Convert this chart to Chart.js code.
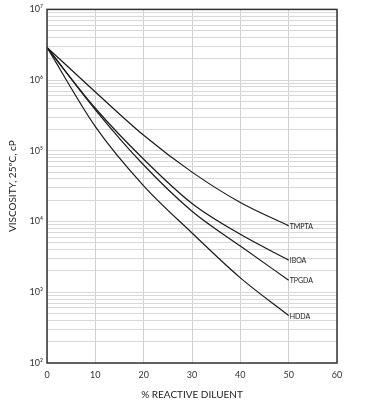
<!DOCTYPE html>
<html>
<head>
<meta charset="utf-8">
<script src="https://cdn.jsdelivr.net/npm/chart.js@4"></script>
<style>
  body { margin: 0; background: #fff; }
  #wrap { width: 368px; height: 415px; }
</style>
</head>
<body>
<div id="wrap"><canvas id="viscChart"></canvas></div>
<script>
  // values (viscosity in cP, log scale)
  const diluentPct = [0, 10, 20, 30, 40, 50];
  const tmpta = [2.9e6, 6.8e5, 1.66e5, 5.0e4, 1.86e4, 8.7e3];
  const iboa  = [2.9e6, 4.0e5, 7.6e4, 1.8e4, 6.6e3, 2.85e3];
  const tpgda = [2.9e6, 3.8e5, 6.3e4, 1.4e4, 4.5e3, 1.48e3];
  const hdda  = [2.9e6, 2.2e5, 3.2e4, 6.9e3, 1.6e3, 4.7e2];
  const seriesNames = ["TMPTA", "IBOA", "TPGDA", "HDDA"];
  const xTicks = [0, 10, 20, 30, 40, 50, 60];
  const yDecades = [2, 3, 4, 5, 6, 7];

  const FONT = "Lato, 'DejaVu Sans', sans-serif";
  const sup = {"0":"⁰","1":"¹","2":"²","3":"³","4":"⁴","5":"⁵","6":"⁶","7":"⁷","8":"⁸","9":"⁹"};

  // every 1..9 x 10^n line, like the printed log paper
  const yTicks = [];
  yDecades.slice(0, -1).forEach(d => {
    for (let m = 1; m <= 9; m++) yTicks.push(m * Math.pow(10, d));
  });
  yTicks.push(Math.pow(10, yDecades[yDecades.length - 1]));

  function toPoints(vals) {
    return vals.map((v, i) => ({ x: diluentPct[i], y: v }));
  }

  const allSeries = [tmpta, iboa, tpgda, hdda];

  // end-of-line names + closed frame around the plot
  const extras = {
    id: 'extras',
    afterDatasetsDraw(chart) {
      const ctx = chart.ctx;
      ctx.save();
      ctx.font = "7px " + FONT;
      ctx.fillStyle = "#222";
      ctx.textBaseline = "middle";
      ctx.textAlign = "left";
      chart.data.datasets.forEach((ds, i) => {
        const pts = chart.getDatasetMeta(i).data;
        const last = pts[pts.length - 1];
        ctx.fillText(ds.label, last.x + 1, last.y + 1);
      });
      const a = chart.chartArea;
      ctx.strokeStyle = "#333";
      ctx.lineWidth = 1.5;
      ctx.strokeRect(a.left, a.top, a.right - a.left, a.bottom - a.top);
      ctx.restore();
    }
  };

  new Chart(document.getElementById('viscChart'), {
    type: 'line',
    data: {
      datasets: allSeries.map((vals, i) => ({
        label: seriesNames[i],
        data: toPoints(vals),
        borderColor: "#1a1a1a",
        borderWidth: 1.2,
        pointRadius: 0,
        fill: false,
        cubicInterpolationMode: 'monotone'
      }))
    },
    options: {
      responsive: true,
      maintainAspectRatio: false,
      animation: false,
      layout: { padding: { left: 0, right: 31, top: 7, bottom: 0 } },
      plugins: {
        legend: { display: false },
        tooltip: { enabled: false }
      },
      scales: {
        x: {
          type: 'linear',
          min: xTicks[0],
          max: xTicks[xTicks.length - 1],
          afterBuildTicks: s => { s.ticks = xTicks.map(v => ({ value: v })); },
          afterFit: s => { s.height = 52; },
          grid: { color: "#d0d0d0", lineWidth: 1, drawTicks: false },
          border: { display: false },
          ticks: { padding: 7, color: "#333", font: { family: FONT, size: 9 } },
          title: {
            display: true,
            text: "% REACTIVE DILUENT",
            color: "#222",
            font: { family: FONT, size: 10 },
            padding: { top: 0, bottom: 14 }
          }
        },
        y: {
          type: 'logarithmic',
          min: yTicks[0],
          max: yTicks[yTicks.length - 1],
          afterBuildTicks: s => { s.ticks = yTicks.map(v => ({ value: v })); },
          afterFit: s => { s.width = 47; },
          grid: { color: "#d8d8d8", lineWidth: 1, drawTicks: false },
          border: { display: false },
          ticks: {
            autoSkip: false,
            padding: 4,
            color: "#333",
            font: { family: FONT, size: 9 },
            callback: function(val) {
              const e = Math.log10(val);
              if (Math.abs(e - Math.round(e)) > 1e-9) return '';
              return "10" + String(Math.round(e)).split('').map(c => sup[c]).join('');
            }
          },
          title: {
            display: true,
            text: "VISCOSITY, 25ºC, cP",
            color: "#222",
            font: { family: FONT, size: 10 },
            padding: { top: 7, bottom: 0 }
          }
        }
      }
    },
    plugins: [extras]
  });
</script>
</body>
</html>
